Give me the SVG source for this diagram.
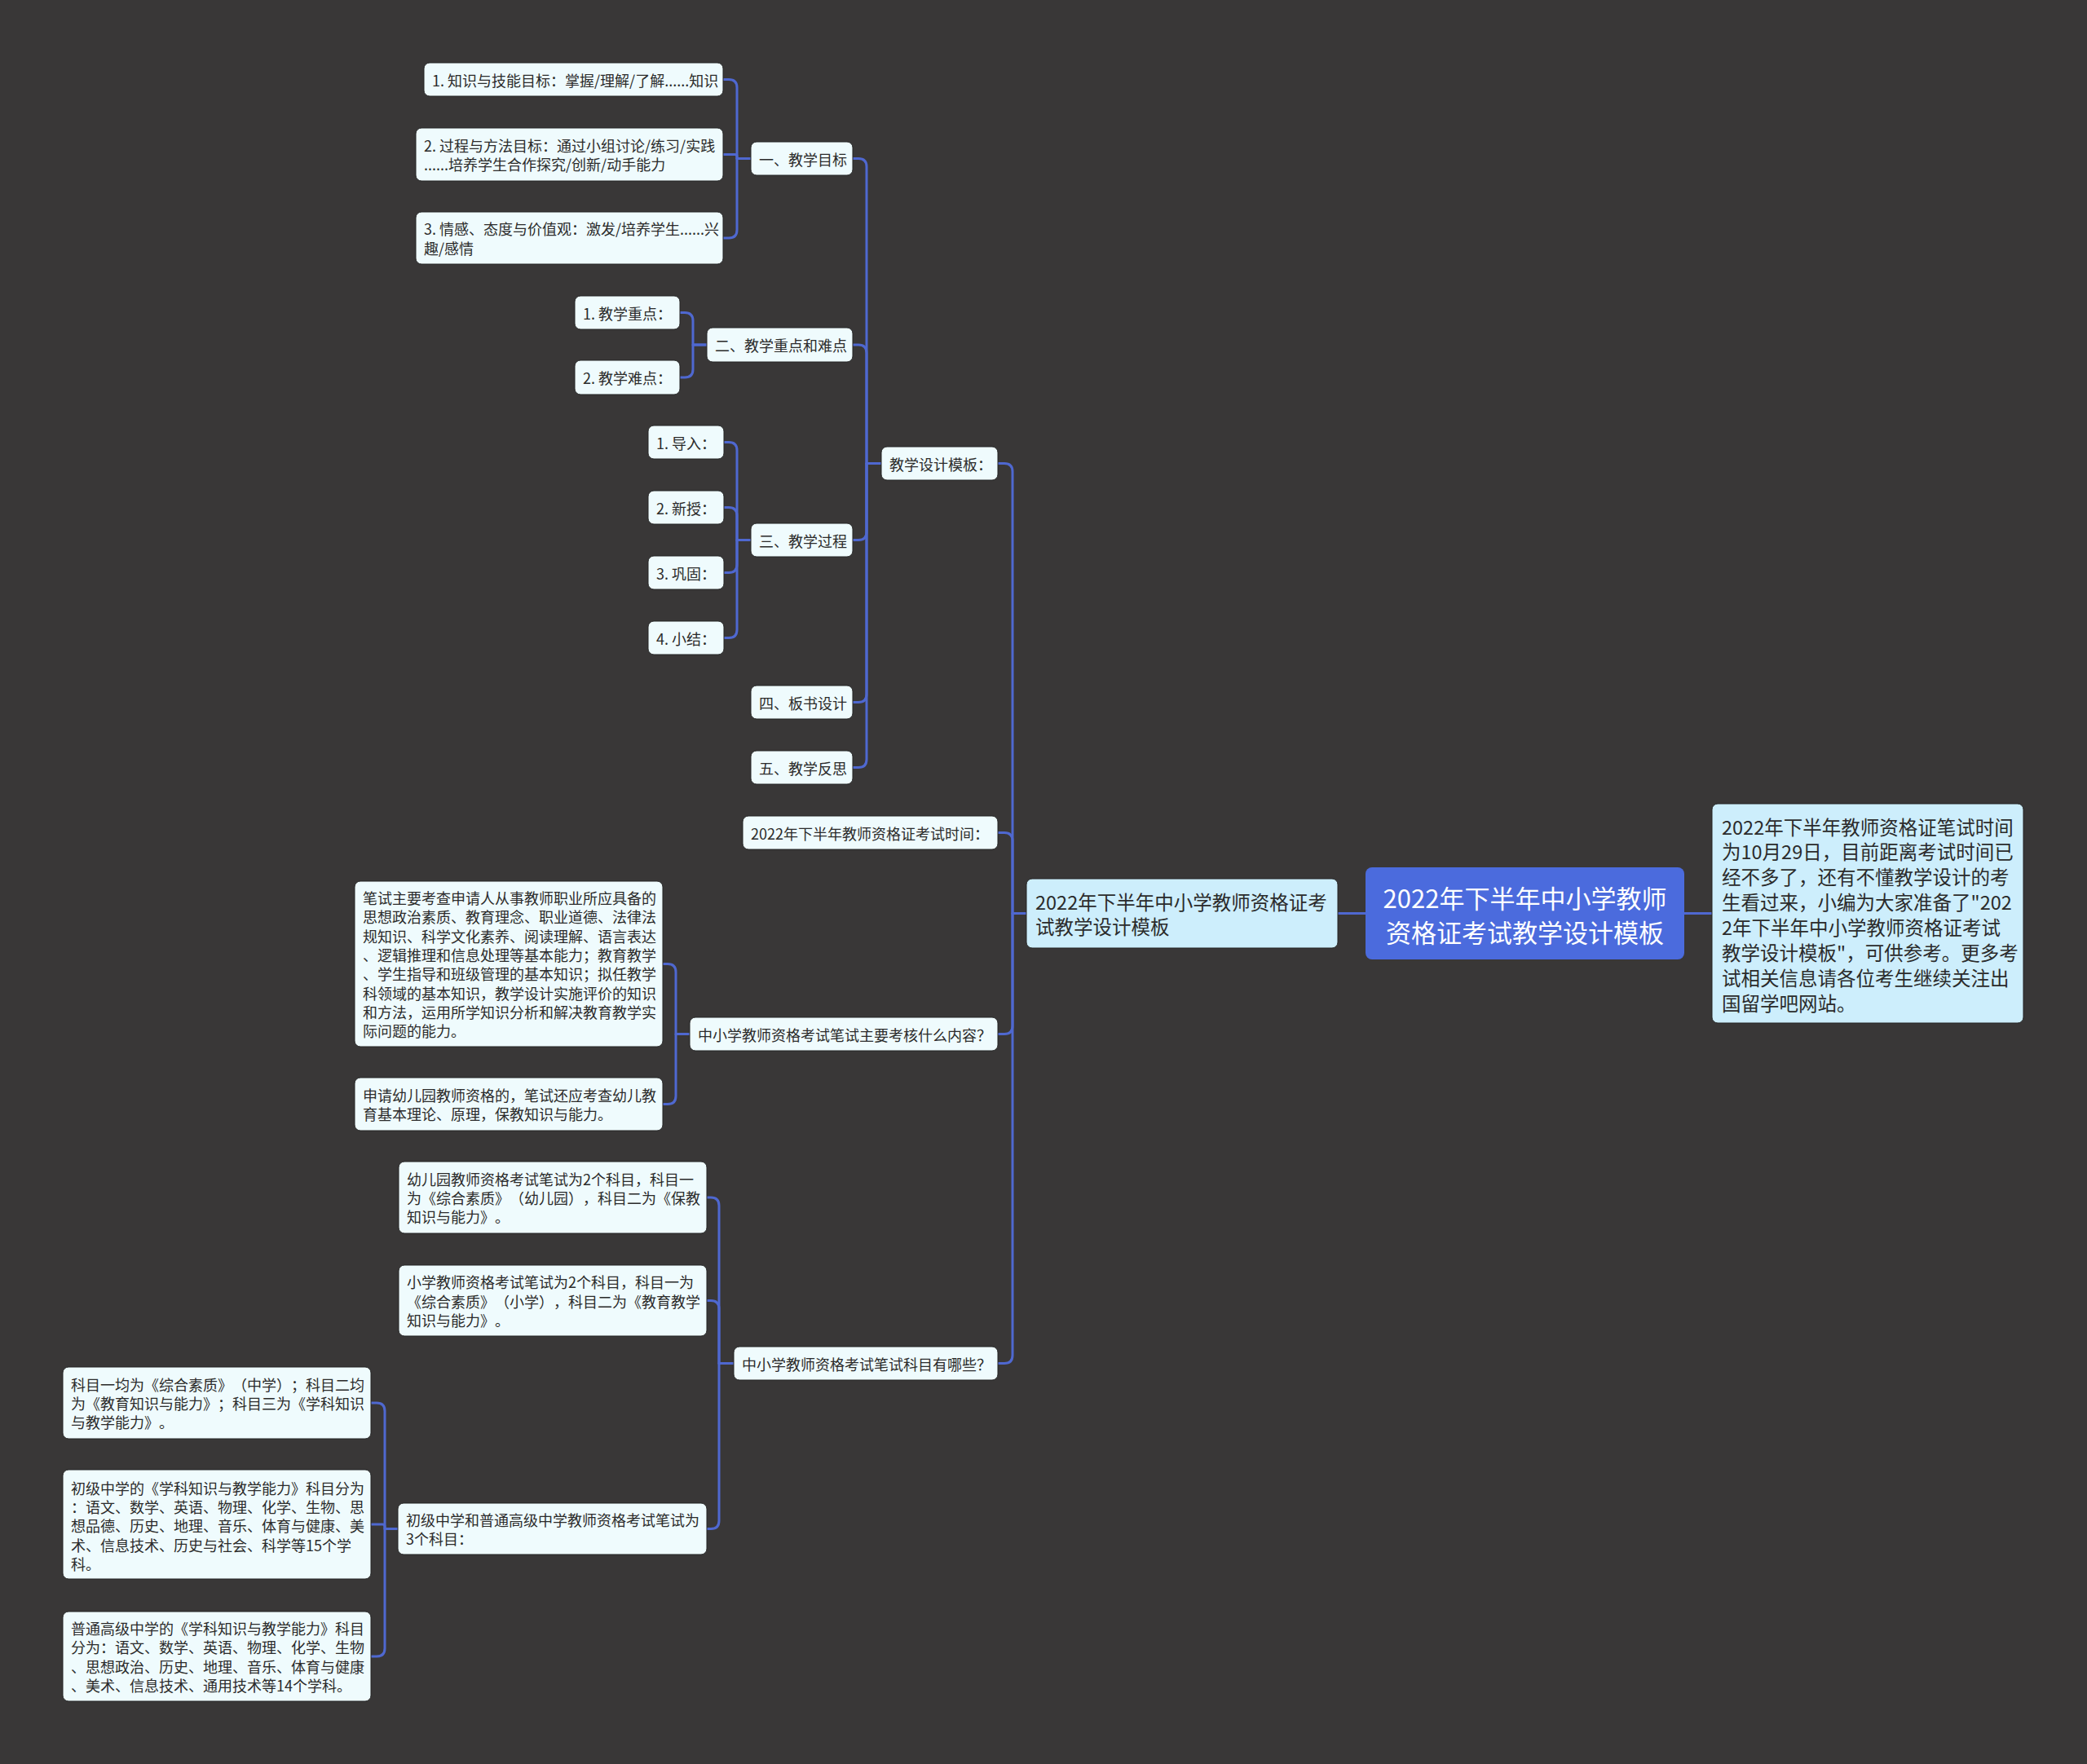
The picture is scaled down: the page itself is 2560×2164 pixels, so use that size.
<svg xmlns="http://www.w3.org/2000/svg" width="2560" height="2164" viewBox="0 0 2560 2164">
<style>
text{font-family:"Microsoft YaHei","Noto Sans CJK SC","Noto Sans",sans-serif;dominant-baseline:central;text-spacing-trim:space-all}
.n rect{fill:#effbfd;stroke:#242424;stroke-width:1}
.n text{font-size:18px;fill:#2b2b2b}
.m rect{fill:#cdeefc;stroke:#242424;stroke-width:1}
.m text{font-size:23.5px;fill:#2b2b2b}
.r rect{fill:#4b6bdd}
.r text{font-size:31px;fill:#ffffff;text-anchor:middle}
#links path{fill:none;stroke:#4f68d0;stroke-width:3;stroke-linecap:round;stroke-linejoin:round}
</style>
<rect width="2560" height="2164" fill="#393737"/>
<g id="links">
<path d="M1641 1120.5H1675"/>
<path d="M2066 1120.5H2100"/>
<path d="M1224 568.5H1232Q1242 568.5 1242 578.5V1120.5H1259"/>
<path d="M1224 1021.5H1232Q1242 1021.5 1242 1031.5V1120.5H1259"/>
<path d="M1224 1268.5H1232Q1242 1268.5 1242 1258.5V1120.5H1259"/>
<path d="M1224 1672.5H1232Q1242 1672.5 1242 1662.5V1120.5H1259"/>
<path d="M1046 194.5H1053Q1063 194.5 1063 204.5V568.5H1081"/>
<path d="M1046 423H1053Q1063 423 1063 433V568.5H1081"/>
<path d="M1046 662.5H1053Q1063 662.5 1063 652.5V568.5H1081"/>
<path d="M1046 861.5H1053Q1063 861.5 1063 851.5V568.5H1081"/>
<path d="M1046 941.5H1053Q1063 941.5 1063 931.5V568.5H1081"/>
<path d="M887 97.5H894Q904 97.5 904 107.5V194.5H921"/>
<path d="M887 189.5H901.5Q904 189.5 904 192V194.5H921"/>
<path d="M887 292H894Q904 292 904 282V194.5H921"/>
<path d="M834 383.5H840Q850 383.5 850 393.5V423H867"/>
<path d="M834 463H840Q850 463 850 453V423H867"/>
<path d="M888 542.5H894Q904 542.5 904 552.5V662.5H921"/>
<path d="M888 622.5H894Q904 622.5 904 632.5V662.5H921"/>
<path d="M888 702.5H894Q904 702.5 904 692.5V662.5H921"/>
<path d="M888 782.5H894Q904 782.5 904 772.5V662.5H921"/>
<path d="M813 1182.5H819Q829 1182.5 829 1192.5V1268.5H846"/>
<path d="M813 1354.5H819Q829 1354.5 829 1344.5V1268.5H846"/>
<path d="M867 1469H872Q882 1469 882 1479V1672.5H900"/>
<path d="M867 1595.5H872Q882 1595.5 882 1605.5V1672.5H900"/>
<path d="M867 1875.5H872Q882 1875.5 882 1865.5V1672.5H900"/>
<path d="M455 1721H462Q472 1721 472 1731V1875.5H488"/>
<path d="M455 1870H469.25Q472 1870 472 1872.75V1875.5H488"/>
<path d="M455 2032H462Q472 2032 472 2022V1875.5H488"/>
</g>
<g id="root" class="r"><rect x="1675" y="1064" width="391" height="113" rx="8"/><text><tspan x="1870.5" y="1100">2022年下半年中小学教师</tspan><tspan x="1870.5" y="1141.5">资格证考试教学设计模板</tspan></text></g>
<g id="desc" class="m"><rect x="2100" y="986" width="382" height="269" rx="7"/><text><tspan x="2112" y="1013.5">2022年下半年教师资格证笔试时间</tspan><tspan x="2112" y="1044.4">为10月29日，目前距离考试时间已</tspan><tspan x="2112" y="1075.2">经不多了，还有不懂教学设计的考</tspan><tspan x="2112" y="1106.1">生看过来，小编为大家准备了"202</tspan><tspan x="2112" y="1136.9">2年下半年中小学教师资格证考试</tspan><tspan x="2112" y="1167.8">教学设计模板"，可供参考。更多考</tspan><tspan x="2112" y="1198.6">试相关信息请各位考生继续关注出</tspan><tspan x="2112" y="1229.5">国留学吧网站。</tspan></text></g>
<g id="main" class="m"><rect x="1259" y="1078" width="382" height="85" rx="7"/><text><tspan x="1270" y="1105.5">2022年下半年中小学教师资格证考</tspan><tspan x="1270" y="1135.5">试教学设计模板</tspan></text></g>
<g id="tpl" class="n"><rect x="1081" y="548" width="143" height="41" rx="7"/><text x="1091" y="568.5">教学设计模板：</text></g>
<g id="time" class="n"><rect x="911" y="1001" width="313" height="41" rx="7"/><text x="921" y="1021.5">2022年下半年教师资格证考试时间：</text></g>
<g id="q3" class="n"><rect x="846" y="1248" width="378" height="41" rx="7"/><text x="856" y="1268.5">中小学教师资格考试笔试主要考核什么内容？</text></g>
<g id="q4" class="n"><rect x="900" y="1652" width="324" height="41" rx="7"/><text x="910" y="1672.5">中小学教师资格考试笔试科目有哪些？</text></g>
<g id="s1" class="n"><rect x="921" y="174" width="125" height="41" rx="7"/><text x="931" y="194.5">一、教学目标</text></g>
<g id="s2" class="n"><rect x="867" y="402" width="179" height="42" rx="7"/><text x="877" y="423">二、教学重点和难点</text></g>
<g id="s3" class="n"><rect x="921" y="642" width="125" height="41" rx="7"/><text x="931" y="662.5">三、教学过程</text></g>
<g id="s4" class="n"><rect x="921" y="841" width="125" height="41" rx="7"/><text x="931" y="861.5">四、板书设计</text></g>
<g id="s5" class="n"><rect x="921" y="921" width="125" height="41" rx="7"/><text x="931" y="941.5">五、教学反思</text></g>
<g id="g1" class="n"><rect x="520" y="77" width="367" height="41" rx="7"/><text x="530" y="97.5">1. 知识与技能目标：掌握/理解/了解......知识</text></g>
<g id="g2" class="n"><rect x="510" y="157" width="377" height="65" rx="7"/><text><tspan x="520" y="177.8">2. 过程与方法目标：通过小组讨论/练习/实践</tspan><tspan x="520" y="201.2">......培养学生合作探究/创新/动手能力</tspan></text></g>
<g id="g3" class="n"><rect x="510" y="260" width="377" height="64" rx="7"/><text><tspan x="520" y="280.3">3. 情感、态度与价值观：激发/培养学生......兴</tspan><tspan x="520" y="303.7">趣/感情</tspan></text></g>
<g id="k1" class="n"><rect x="705" y="363" width="129" height="41" rx="7"/><text x="715" y="383.5">1. 教学重点：</text></g>
<g id="k2" class="n"><rect x="705" y="442" width="129" height="42" rx="7"/><text x="715" y="463">2. 教学难点：</text></g>
<g id="p1" class="n"><rect x="795" y="522" width="93" height="41" rx="7"/><text x="805" y="542.5">1. 导入：</text></g>
<g id="p2" class="n"><rect x="795" y="602" width="93" height="41" rx="7"/><text x="805" y="622.5">2. 新授：</text></g>
<g id="p3" class="n"><rect x="795" y="682" width="93" height="41" rx="7"/><text x="805" y="702.5">3. 巩固：</text></g>
<g id="p4" class="n"><rect x="795" y="762" width="93" height="41" rx="7"/><text x="805" y="782.5">4. 小结：</text></g>
<g id="c1" class="n"><rect x="435" y="1081" width="378" height="203" rx="7"/><text><tspan x="445" y="1100.8">笔试主要考查申请人从事教师职业所应具备的</tspan><tspan x="445" y="1124.1">思想政治素质、教育理念、职业道德、法律法</tspan><tspan x="445" y="1147.5">规知识、科学文化素养、阅读理解、语言表达</tspan><tspan x="445" y="1170.8">、逻辑推理和信息处理等基本能力；教育教学</tspan><tspan x="445" y="1194.2">、学生指导和班级管理的基本知识；拟任教学</tspan><tspan x="445" y="1217.5">科领域的基本知识，教学设计实施评价的知识</tspan><tspan x="445" y="1240.8">和方法，运用所学知识分析和解决教育教学实</tspan><tspan x="445" y="1264.2">际问题的能力。</tspan></text></g>
<g id="c2" class="n"><rect x="435" y="1322" width="378" height="65" rx="7"/><text><tspan x="445" y="1342.8">申请幼儿园教师资格的，笔试还应考查幼儿教</tspan><tspan x="445" y="1366.2">育基本理论、原理，保教知识与能力。</tspan></text></g>
<g id="d1" class="n"><rect x="489" y="1425" width="378" height="88" rx="7"/><text><tspan x="499" y="1445.7">幼儿园教师资格考试笔试为2个科目，科目一</tspan><tspan x="499" y="1469">为《综合素质》（幼儿园），科目二为《保教</tspan><tspan x="499" y="1492.3">知识与能力》。</tspan></text></g>
<g id="d2" class="n"><rect x="489" y="1552" width="378" height="87" rx="7"/><text><tspan x="499" y="1572.2">小学教师资格考试笔试为2个科目，科目一为</tspan><tspan x="499" y="1595.5">《综合素质》（小学），科目二为《教育教学</tspan><tspan x="499" y="1618.8">知识与能力》。</tspan></text></g>
<g id="d3" class="n"><rect x="488" y="1844" width="379" height="63" rx="7"/><text><tspan x="498" y="1863.8">初级中学和普通高级中学教师资格考试笔试为</tspan><tspan x="498" y="1887.2">3个科目：</tspan></text></g>
<g id="e1" class="n"><rect x="77" y="1677" width="378" height="88" rx="7"/><text><tspan x="87" y="1697.7">科目一均为《综合素质》（中学）；科目二均</tspan><tspan x="87" y="1721">为《教育知识与能力》；科目三为《学科知识</tspan><tspan x="87" y="1744.3">与教学能力》。</tspan></text></g>
<g id="e2" class="n"><rect x="77" y="1803" width="378" height="134" rx="7"/><text><tspan x="87" y="1824.5">初级中学的《学科知识与教学能力》科目分为</tspan><tspan x="87" y="1847.8">：语文、数学、英语、物理、化学、生物、思</tspan><tspan x="87" y="1871.2">想品德、历史、地理、音乐、体育与健康、美</tspan><tspan x="87" y="1894.5">术、信息技术、历史与社会、科学等15个学</tspan><tspan x="87" y="1917.8">科。</tspan></text></g>
<g id="e3" class="n"><rect x="77" y="1977" width="378" height="110" rx="7"/><text><tspan x="87" y="1997">普通高级中学的《学科知识与教学能力》科目</tspan><tspan x="87" y="2020.3">分为：语文、数学、英语、物理、化学、生物</tspan><tspan x="87" y="2043.7">、思想政治、历史、地理、音乐、体育与健康</tspan><tspan x="87" y="2067">、美术、信息技术、通用技术等14个学科。</tspan></text></g>
</svg>
